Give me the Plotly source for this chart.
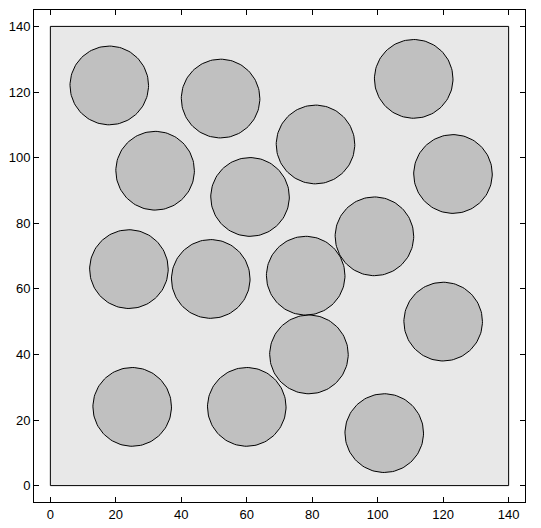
import numpy as np
import plotly.graph_objects as go

# Circle centres (x, y) and common radius
cx = [18, 52, 111, 81, 32, 61, 123, 99, 24, 49, 78, 120, 79, 25, 60, 102]
cy = [122, 118, 124, 104, 96, 88, 95, 76, 66, 63, 64, 50, 40, 24, 24, 16]
radius = 12
domain = [0, 140]
tick_vals = [0, 20, 40, 60, 80, 100, 120, 140]

fig = go.Figure()

# Domain box
bx = [domain[0], domain[1], domain[1], domain[0], domain[0]]
by = [domain[0], domain[0], domain[1], domain[1], domain[0]]
fig.add_trace(go.Scatter(x=bx, y=by, mode="lines", fill="toself",
                         fillcolor="#E8E8E8", line=dict(color="black", width=1),
                         hoverinfo="skip", showlegend=False))

t = np.linspace(0, 2 * np.pi, 121)
for x0, y0 in zip(cx, cy):
    fig.add_trace(go.Scatter(x=x0 + radius * np.cos(t), y=y0 + radius * np.sin(t),
                             mode="lines", fill="toself", fillcolor="#C0C0C0",
                             line=dict(color="black", width=1),
                             hoverinfo="skip", showlegend=False))

axis_common = dict(range=[-5, 145], tickvals=tick_vals, ticks="inside", ticklen=5,
                   tickcolor="black", showline=True, linecolor="black", linewidth=1,
                   mirror="ticks", showgrid=False, zeroline=False, automargin=False,
                   tickfont=dict(family="Liberation Sans, Arial", size=13, color="black"))

fig.update_xaxes(**axis_common)
fig.update_yaxes(**axis_common)

fig.update_layout(width=541, height=528,
                  margin=dict(l=34, r=16, t=10, b=26, autoexpand=False),
                  plot_bgcolor="white", paper_bgcolor="white",
                  showlegend=False)

fig.write_html("out.html", config={"displayModeBar": False},
               post_script="document.body.style.margin='0';document.body.style.overflow='hidden';")
